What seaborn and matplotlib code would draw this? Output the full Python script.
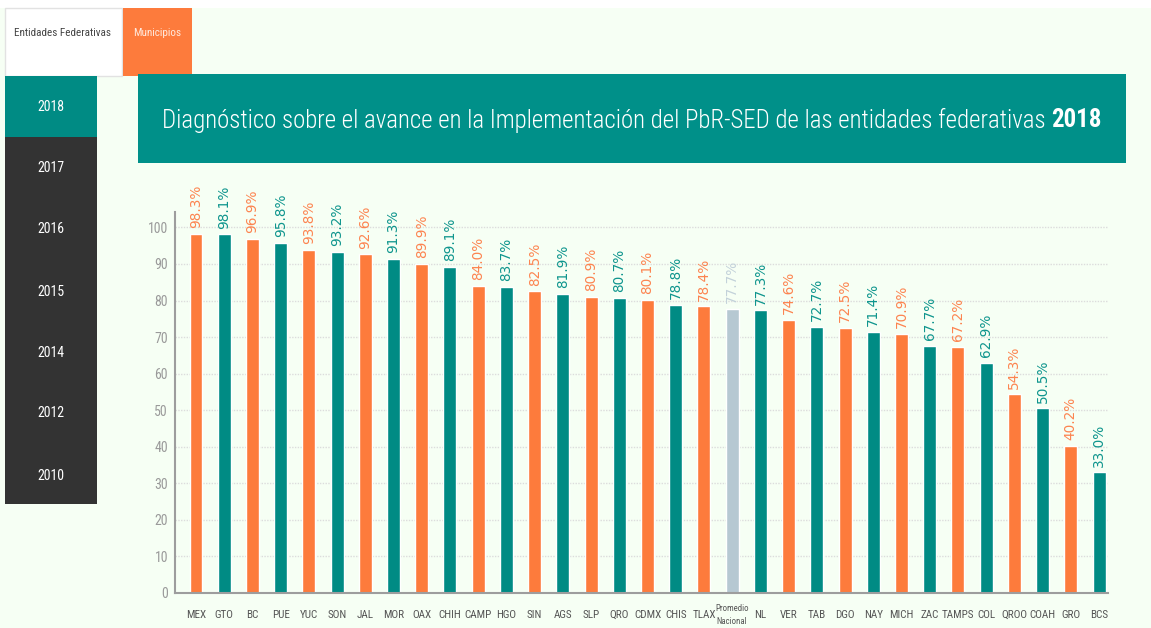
import matplotlib
matplotlib.use("Agg")
import matplotlib.pyplot as plt
from matplotlib import font_manager
from matplotlib.patches import Rectangle
import seaborn as sns
import pandas as pd

# ---- data -------------------------------------------------------------
states = ["MEX", "GTO", "BC", "PUE", "YUC", "SON", "JAL", "MOR", "OAX", "CHIH",
          "CAMP", "HGO", "SIN", "AGS", "SLP", "QRO", "CDMX", "CHIS", "TLAX",
          "Promedio\nNacional", "NL", "VER", "TAB", "DGO", "NAY", "MICH", "ZAC",
          "TAMPS", "COL", "QROO", "COAH", "GRO", "BCS"]
scores = [98.3, 98.1, 96.9, 95.8, 93.8, 93.2, 92.6, 91.3, 89.9, 89.1,
          84.0, 83.7, 82.5, 81.9, 80.9, 80.7, 80.1, 78.8, 78.4,
          77.7, 77.3, 74.6, 72.7, 72.5, 71.4, 70.9, 67.7,
          67.2, 62.9, 54.3, 50.5, 40.2, 33.0]
groups = ["o", "t", "o", "t", "o", "t", "o", "t", "o", "t",
          "o", "t", "o", "t", "o", "t", "o", "t", "o",
          "avg", "t", "o", "t", "o", "t", "o", "t",
          "o", "t", "o", "t", "o", "t"]
years = ["2018", "2017", "2016", "2015", "2014", "2012", "2010"]
tabs = ["Entidades Federativas", "Municipios"]
title_main = "Diagnóstico sobre el avance en la Implementación del PbR-SED de las entidades federativas"
title_year = "2018"
y_ticks = list(range(0, 101, 10))

# ---- style ------------------------------------------------------------
ORANGE = "#FD7B3C"
TEAL = "#008B84"
AVG = "#B6C8D2"
MINT = "#F6FFF4"
DARK = "#333333"
group_colors = {"o": ORANGE, "t": TEAL, "avg": AVG}
label_colors = {"o": "#FD8450", "t": "#0E958D", "avg": "#C3D2DA"}


def pick_font(candidates):
    names = {f.name for f in font_manager.fontManager.ttflist}
    for c in candidates:
        if c in names:
            return c
    return "DejaVu Sans"


NARROW = pick_font(["Roboto Condensed", "Open Sans Condensed", "Liberation Sans Narrow",
                    "DejaVu Sans Condensed", "Arial Narrow", "Roboto", "Open Sans"])
WIDE = "DejaVu Sans"

sns.set_theme(style="white")
plt.rcParams["font.family"] = [NARROW, "DejaVu Sans"]

W, H, DPI = 1151, 628, 100
fig = plt.figure(figsize=(W / DPI, H / DPI), dpi=DPI)
fig.patch.set_facecolor(MINT)

# ---- page furniture in pixel coordinates -------------------------------
bg = fig.add_axes([0, 0, 1, 1], zorder=0)
bg.set_xlim(0, W)
bg.set_ylim(H, 0)
bg.axis("off")
bg.add_patch(Rectangle((0, 0), W, 8, color="white", lw=0))
# tabs
bg.add_patch(Rectangle((5, 8), 117, 68, facecolor="white", edgecolor="#e2e2e2", lw=1))
bg.add_patch(Rectangle((123, 8), 69, 68, facecolor=ORANGE, lw=0))
bg.text(63, 33, tabs[0], ha="center", va="center", fontsize=8, color="#444444",
        family=[NARROW, "DejaVu Sans"])
bg.text(157, 33, tabs[1], ha="center", va="center", fontsize=8, color="#FFE9DD",
        family=[NARROW, "DejaVu Sans"])
# year menu
bg.add_patch(Rectangle((5, 76), 92, 61, facecolor=TEAL, lw=0))
bg.add_patch(Rectangle((5, 137), 92, 367, facecolor=DARK, lw=0))
year_y = [107, 168, 229, 292, 353, 413, 476]
for yr, yy in zip(years, year_y):
    bg.text(51, yy, yr, ha="center", va="center", fontsize=10, color="white",
            family=[NARROW, "DejaVu Sans"])
# title banner
bg.add_patch(Rectangle((138, 74), 988, 89, facecolor="#009089", lw=0))

t_main = bg.text(0, 120, title_main + " ", ha="left", va="center", fontsize=20,
                 color="white", fontweight="light", family=[NARROW, "DejaVu Sans"])
t_year = bg.text(0, 120, title_year, ha="left", va="center", fontsize=20,
                 color="white", fontweight="bold", family=[NARROW, "DejaVu Sans"])
fig.canvas.draw()
r = fig.canvas.get_renderer()
w_total = t_main.get_window_extent(r).width + t_year.get_window_extent(r).width
size = 20 * 939.0 / w_total
t_main.set_fontsize(size)
t_year.set_fontsize(size)
fig.canvas.draw()
w_main = t_main.get_window_extent(r).width
w_year = t_year.get_window_extent(r).width
x0 = 632 - (w_main + w_year) / 2
t_main.set_x(x0)
t_year.set_x(x0 + w_main)

# ---- chart ------------------------------------------------------------
ax_left, ax_right, ax_bottom, ax_top = 175, 1107.5, 593, 211.7
ax = fig.add_axes([ax_left / W, (H - ax_bottom) / H,
                   (ax_right - ax_left) / W, (ax_bottom - ax_top) / H], zorder=1)
ax.set_facecolor("none")

df = pd.DataFrame({"estado": states, "valor": scores, "grupo": groups})
palette = {s: group_colors[g] for s, g in zip(states, groups)}
sns.barplot(data=df, x="estado", y="valor", hue="estado", palette=palette,
            width=0.46, saturation=1, legend=False, ax=ax, zorder=2)

for i, (v, g) in enumerate(zip(scores, groups)):
    ax.text(i, v + 1.6, f"{v:.1f}%", rotation=90, ha="center", va="bottom",
            fontsize=9.8, color=label_colors[g], family=WIDE, zorder=3)

ax.set_xlim(-0.744, 32.30)
ax.set_ylim(0, 104.3)
ax.set_yticks(y_ticks)
ax.set_yticklabels([str(t) for t in y_ticks])
ax.yaxis.grid(True, linestyle=(0, (1, 1)), color="#dcdcdc", lw=1, zorder=0)
ax.xaxis.grid(False)
ax.set_axisbelow(True)
ax.set_xlabel("")
ax.set_ylabel("")
for side in ("top", "right"):
    ax.spines[side].set_visible(False)
for side in ("left", "bottom"):
    ax.spines[side].set_color("#9d9d9d")
    ax.spines[side].set_linewidth(1.5)
ax.tick_params(axis="y", length=0, pad=5, labelsize=10, labelcolor="#9a9a9a")
ax.tick_params(axis="x", length=0, pad=16, labelsize=8, labelcolor="#555555")
for lab in ax.get_xticklabels():
    lab.set_va("center")
    if "\n" in lab.get_text():
        lab.set_fontsize(6.3)
        lab.set_linespacing(1.5)

fig.savefig("out.png", dpi=DPI, facecolor=fig.get_facecolor())
